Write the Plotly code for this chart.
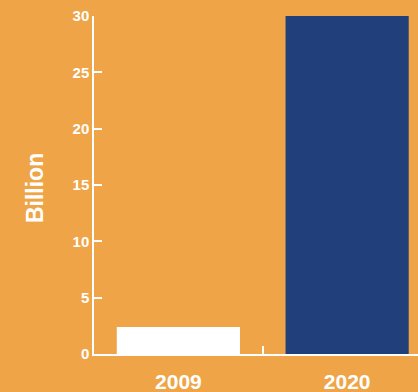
import plotly.graph_objects as go

categories = ["2009", "2020"]
values = [2.4, 30]
bar_colors = ["#FFFFFF", "#213F7B"]
y_ticks = [0, 5, 10, 15, 20, 25, 30]

BG = "#EFA547"
FONT = "Liberation Sans, Arial, sans-serif"

fig = go.Figure(go.Bar(x=categories, y=values, marker=dict(color=bar_colors, line=dict(width=0))))

fig.update_layout(
    width=418, height=392,
    margin=dict(l=94, r=0, t=16, b=38),
    paper_bgcolor=BG, plot_bgcolor=BG,
    bargap=0.27,
    showlegend=False,
    font=dict(family=FONT, color="white"),
)
fig.update_xaxes(
    type="category", range=[-0.5, 1.42], automargin=False,
    showline=True, linecolor="white", linewidth=1.5,
    ticks="inside", tickson="boundaries", ticklen=8, tickcolor="white", tickwidth=1.5,
    showgrid=False, zeroline=False,
    tickfont=dict(family=FONT, size=21, color="white", weight="bold"),
    ticklabelstandoff=8,
)
fig.update_yaxes(
    range=[0, 30], tickvals=y_ticks, automargin=False,
    showline=True, linecolor="white", linewidth=1.5,
    ticks="inside", ticklen=8, tickcolor="white", tickwidth=1.5,
    showgrid=False, zeroline=False,
    tickfont=dict(family=FONT, size=15, color="white", weight="bold"),
)
fig.add_annotation(
    text="Billion", xref="paper", yref="paper", x=-0.184, y=0.492,
    textangle=-90, showarrow=False, xanchor="center", yanchor="middle",
    font=dict(family=FONT, size=23, color="white", weight="bold"),
)
fig.write_html("out.html")
